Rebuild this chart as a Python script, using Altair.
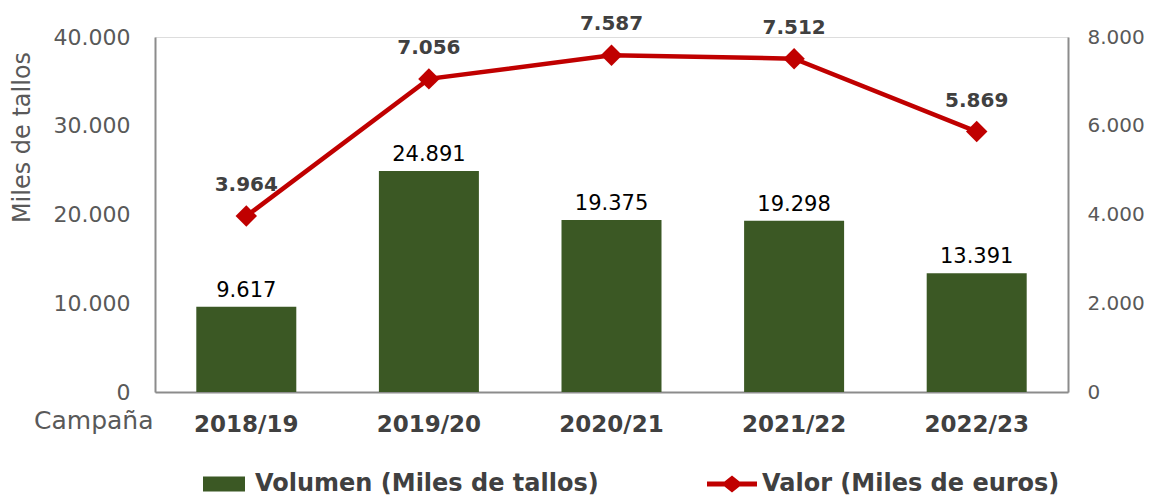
import altair as alt
import pandas as pd

campanas = ["2018/19", "2019/20", "2020/21", "2021/22", "2022/23"]
volumen = [9617, 24891, 19375, 19298, 13391]
valor = [3964, 7056, 7587, 7512, 5869]
serie_vol = "Volumen (Miles de tallos)"
serie_val = "Valor (Miles de euros)"

def fmt(v):
    return f"{v:,}".replace(",", ".")

df_vol = pd.DataFrame({"campana": campanas, "volumen": volumen,
                       "label": [fmt(v) for v in volumen], "serie": serie_vol})
df_val = pd.DataFrame({"campana": campanas, "valor": valor,
                       "label": [fmt(v) for v in valor], "serie": serie_val})

FONT = "DejaVu Sans"
GREEN = "#3B5824"
RED = "#C00000"
AXIS_GRAY = "#8C8C8C"
LABEL_GRAY = "#595959"
DARK = "#404040"

x_enc = alt.X("campana:N", sort=campanas,
              scale=alt.Scale(paddingInner=0.45, paddingOuter=0.225),
              axis=alt.Axis(title="Campaña", titleX=-2, titleY=28, titleAlign="right",
                            titleBaseline="middle", titleFont=FONT, titleFontSize=25,
                            titleFontWeight="normal", titleColor=LABEL_GRAY,
                            labelFont=FONT, labelFontSize=23, labelFontWeight="bold",
                            labelColor=DARK, labelPadding=21, labelAngle=0,
                            ticks=False, domainColor=AXIS_GRAY, domainWidth=2))

y_left = alt.Y("volumen:Q", scale=alt.Scale(domain=[0, 40000]),
               axis=alt.Axis(title="Miles de tallos", values=[0, 10000, 20000, 30000, 40000],
                             labelExpr="replace(format(datum.value, ','), ',', '.')",
                             labelFont=FONT, labelFontSize=22, labelColor=LABEL_GRAY,
                             labelPadding=25, ticks=False, grid=False,
                             domainColor=AXIS_GRAY, domainWidth=2,
                             titleFont=FONT, titleFontSize=24, titleFontWeight="normal",
                             titleColor=LABEL_GRAY, titleX=-133, titleY=100,
                             titleAlign="center", titleBaseline="middle", titleAngle=270))

bars = alt.Chart(df_vol).mark_bar(size=100).encode(
    x=x_enc,
    y=y_left,
    fill=alt.Fill("serie:N", scale=alt.Scale(domain=[serie_vol], range=[GREEN]),
                  legend=alt.Legend(title=None, orient="none", legendX=48, legendY=426,
                                    symbolType="M-1,-0.36H1V0.36H-1Z", symbolSize=1764,
                                    symbolStrokeWidth=0, labelFont=FONT, labelFontSize=24,
                                    labelFontWeight="bold", labelColor=DARK, labelLimit=600,
                                    labelOffset=10, padding=0)),
)
bar_text = alt.Chart(df_vol).mark_text(font=FONT, fontSize=21, color="black",
                                       baseline="middle", dy=-16).encode(
    x=alt.X("campana:N", sort=campanas),
    y=alt.Y("volumen:Q"),
    text="label:N",
)
left = alt.layer(bars, bar_text)

y_right = alt.Y("valor:Q", scale=alt.Scale(domain=[0, 8000]),
                axis=alt.Axis(orient="right", title=None, values=[0, 2000, 4000, 6000, 8000],
                              labelExpr="replace(format(datum.value, ','), ',', '.')",
                              labelFont=FONT, labelFontSize=20, labelColor=LABEL_GRAY,
                              labelPadding=19, ticks=False, grid=False,
                              domainColor=AXIS_GRAY, domainWidth=2))

line = alt.Chart(df_val).mark_line(strokeWidth=4.5).encode(
    x=alt.X("campana:N", sort=campanas),
    y=y_right,
    stroke=alt.Stroke("serie:N", scale=alt.Scale(domain=[serie_val], range=[RED]),
                      legend=alt.Legend(title=None, orient="none", legendX=552, legendY=422,
                                        symbolType="M-1,-0.1L-0.3,-0.1L0,-0.34L0.3,-0.1L1,-0.1L1,0.1L0.3,0.1L0,0.34L-0.3,0.1L-1,0.1Z",
                                        symbolSize=2500, symbolFillColor=RED,
                                        symbolStrokeWidth=0, labelFont=FONT, labelFontSize=24,
                                        labelFontWeight="bold", labelColor=DARK, labelLimit=600,
                                        labelOffset=5, padding=0)),
)
points = alt.Chart(df_val).mark_point(shape="diamond", filled=True, size=460,
                                      color=RED, opacity=1).encode(
    x=alt.X("campana:N", sort=campanas),
    y=alt.Y("valor:Q"),
)
val_text = alt.Chart(df_val).mark_text(font=FONT, fontSize=20, fontWeight="bold",
                                       color=DARK, baseline="middle", dy=-31).encode(
    x=alt.X("campana:N", sort=campanas),
    y=alt.Y("valor:Q"),
    text="label:N",
)
right = alt.layer(line, points, val_text)

chart = alt.layer(left, right).resolve_scale(y="independent", fill="independent",
                                             stroke="independent").properties(
    width=913, height=355,
    padding={"left": 147, "top": 29, "right": 77, "bottom": 105},
    autosize=alt.AutoSizeParams(type="none"),
).configure_view(stroke=None).configure(background="white")

chart.save("out.html", embed_options={"renderer": "svg", "actions": False})
